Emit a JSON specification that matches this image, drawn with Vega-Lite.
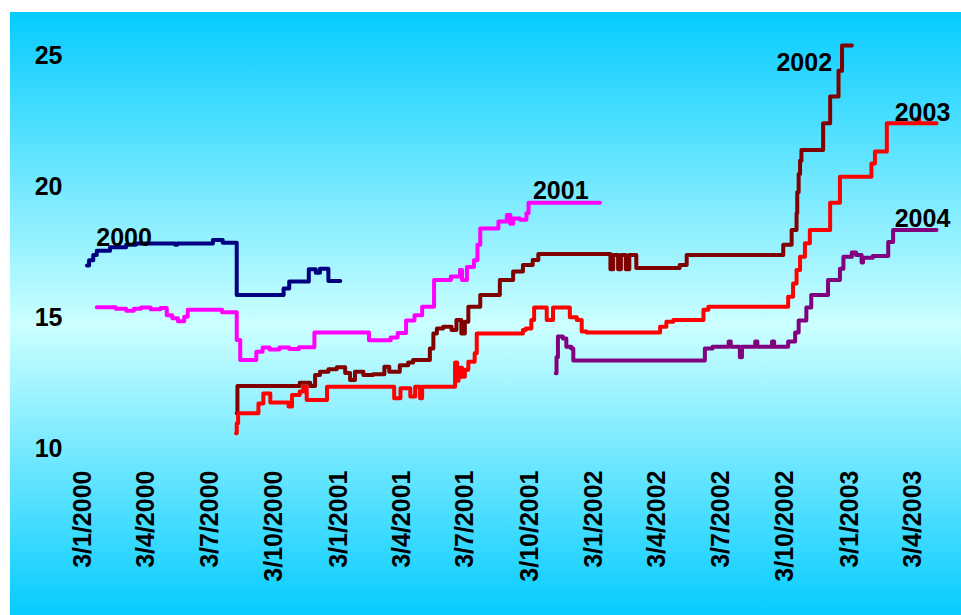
{
  "$schema": "https://vega.github.io/schema/vega-lite/v6.json",
  "width": 951,
  "height": 603,
  "autosize": "none",
  "padding": {"left": 10, "top": 12, "right": 0, "bottom": 0},
  "background": "white",
  "config": {
    "view": {
      "stroke": null,
      "fill": {"gradient": "linear", "x1": 0, "y1": 0, "x2": 0, "y2": 1,
        "stops": [{"offset": 0, "color": "#05CCFF"}, {"offset": 0.52, "color": "#CCFFFF"}, {"offset": 1, "color": "#05CCFF"}]}
    },
    "font": "Liberation Sans"
  },
  "datasets": {
    "prices": [
      {"series": "2000", "date": "2000-01-10", "value": 17.0},
      {"series": "2000", "date": "2000-01-13", "value": 17.2},
      {"series": "2000", "date": "2000-01-19", "value": 17.4},
      {"series": "2000", "date": "2000-01-24", "value": 17.57},
      {"series": "2000", "date": "2000-02-12", "value": 17.7},
      {"series": "2000", "date": "2000-03-06", "value": 17.8},
      {"series": "2000", "date": "2000-03-20", "value": 17.84},
      {"series": "2000", "date": "2000-05-15", "value": 17.8},
      {"series": "2000", "date": "2000-05-18", "value": 17.84},
      {"series": "2000", "date": "2000-07-08", "value": 17.98},
      {"series": "2000", "date": "2000-07-22", "value": 17.87},
      {"series": "2000", "date": "2000-08-11", "value": 15.88},
      {"series": "2000", "date": "2000-10-17", "value": 16.13},
      {"series": "2000", "date": "2000-10-25", "value": 16.39},
      {"series": "2000", "date": "2000-11-22", "value": 16.86},
      {"series": "2000", "date": "2000-12-02", "value": 16.73},
      {"series": "2000", "date": "2000-12-08", "value": 16.88},
      {"series": "2000", "date": "2000-12-20", "value": 16.41},
      {"series": "2000", "date": "2001-01-06", "value": 16.41},

      {"series": "2001", "date": "2000-01-24", "value": 15.41},
      {"series": "2001", "date": "2000-02-20", "value": 15.35},
      {"series": "2001", "date": "2000-03-06", "value": 15.28},
      {"series": "2001", "date": "2000-03-17", "value": 15.35},
      {"series": "2001", "date": "2000-03-27", "value": 15.4},
      {"series": "2001", "date": "2000-04-10", "value": 15.33},
      {"series": "2001", "date": "2000-04-24", "value": 15.38},
      {"series": "2001", "date": "2000-05-03", "value": 15.1},
      {"series": "2001", "date": "2000-05-11", "value": 14.99},
      {"series": "2001", "date": "2000-05-19", "value": 14.88},
      {"series": "2001", "date": "2000-05-28", "value": 15.05},
      {"series": "2001", "date": "2000-06-02", "value": 15.31},
      {"series": "2001", "date": "2000-07-21", "value": 15.22},
      {"series": "2001", "date": "2000-08-11", "value": 14.16},
      {"series": "2001", "date": "2000-08-16", "value": 13.4},
      {"series": "2001", "date": "2000-09-08", "value": 13.71},
      {"series": "2001", "date": "2000-09-17", "value": 13.87},
      {"series": "2001", "date": "2000-09-27", "value": 13.8},
      {"series": "2001", "date": "2000-10-11", "value": 13.87},
      {"series": "2001", "date": "2000-10-25", "value": 13.82},
      {"series": "2001", "date": "2000-11-08", "value": 13.88},
      {"series": "2001", "date": "2000-11-30", "value": 14.45},
      {"series": "2001", "date": "2001-02-16", "value": 14.15},
      {"series": "2001", "date": "2001-03-19", "value": 14.26},
      {"series": "2001", "date": "2001-03-29", "value": 14.43},
      {"series": "2001", "date": "2001-04-10", "value": 14.9},
      {"series": "2001", "date": "2001-04-22", "value": 15.1},
      {"series": "2001", "date": "2001-05-03", "value": 15.43},
      {"series": "2001", "date": "2001-05-20", "value": 16.45},
      {"series": "2001", "date": "2001-06-13", "value": 16.58},
      {"series": "2001", "date": "2001-06-26", "value": 16.83},
      {"series": "2001", "date": "2001-06-29", "value": 16.45},
      {"series": "2001", "date": "2001-07-06", "value": 16.95},
      {"series": "2001", "date": "2001-07-16", "value": 17.2},
      {"series": "2001", "date": "2001-07-21", "value": 17.8},
      {"series": "2001", "date": "2001-07-25", "value": 18.42},
      {"series": "2001", "date": "2001-08-20", "value": 18.68},
      {"series": "2001", "date": "2001-09-01", "value": 18.93},
      {"series": "2001", "date": "2001-09-06", "value": 18.6},
      {"series": "2001", "date": "2001-09-10", "value": 18.8},
      {"series": "2001", "date": "2001-09-20", "value": 18.75},
      {"series": "2001", "date": "2001-09-29", "value": 19.0},
      {"series": "2001", "date": "2001-10-02", "value": 19.4},
      {"series": "2001", "date": "2002-01-12", "value": 19.4},

      {"series": "2002", "date": "2000-08-11", "value": 11.36},
      {"series": "2002", "date": "2000-08-12", "value": 12.4},
      {"series": "2002", "date": "2000-11-09", "value": 12.53},
      {"series": "2002", "date": "2000-11-24", "value": 12.4},
      {"series": "2002", "date": "2000-12-01", "value": 12.82},
      {"series": "2002", "date": "2000-12-08", "value": 12.95},
      {"series": "2002", "date": "2000-12-20", "value": 13.04},
      {"series": "2002", "date": "2001-01-01", "value": 13.12},
      {"series": "2002", "date": "2001-01-13", "value": 12.9},
      {"series": "2002", "date": "2001-01-20", "value": 12.63},
      {"series": "2002", "date": "2001-01-27", "value": 12.95},
      {"series": "2002", "date": "2001-02-08", "value": 12.82},
      {"series": "2002", "date": "2001-02-22", "value": 12.85},
      {"series": "2002", "date": "2001-03-10", "value": 13.14},
      {"series": "2002", "date": "2001-03-17", "value": 12.95},
      {"series": "2002", "date": "2001-04-01", "value": 13.2},
      {"series": "2002", "date": "2001-04-13", "value": 13.3},
      {"series": "2002", "date": "2001-04-20", "value": 13.4},
      {"series": "2002", "date": "2001-05-14", "value": 13.84},
      {"series": "2002", "date": "2001-05-19", "value": 14.41},
      {"series": "2002", "date": "2001-05-24", "value": 14.6},
      {"series": "2002", "date": "2001-06-02", "value": 14.67},
      {"series": "2002", "date": "2001-06-14", "value": 14.54},
      {"series": "2002", "date": "2001-06-21", "value": 14.92},
      {"series": "2002", "date": "2001-06-28", "value": 14.41},
      {"series": "2002", "date": "2001-07-03", "value": 14.86},
      {"series": "2002", "date": "2001-07-08", "value": 15.43},
      {"series": "2002", "date": "2001-07-25", "value": 15.88},
      {"series": "2002", "date": "2001-08-22", "value": 16.45},
      {"series": "2002", "date": "2001-09-10", "value": 16.77},
      {"series": "2002", "date": "2001-09-24", "value": 17.02},
      {"series": "2002", "date": "2001-10-08", "value": 17.21},
      {"series": "2002", "date": "2001-10-16", "value": 17.44},
      {"series": "2002", "date": "2002-01-27", "value": 16.86},
      {"series": "2002", "date": "2002-01-31", "value": 17.4},
      {"series": "2002", "date": "2002-02-07", "value": 16.86},
      {"series": "2002", "date": "2002-02-11", "value": 17.4},
      {"series": "2002", "date": "2002-02-18", "value": 16.86},
      {"series": "2002", "date": "2002-02-23", "value": 17.4},
      {"series": "2002", "date": "2002-03-05", "value": 16.91},
      {"series": "2002", "date": "2002-05-06", "value": 17.02},
      {"series": "2002", "date": "2002-05-16", "value": 17.4},
      {"series": "2002", "date": "2002-10-01", "value": 17.8},
      {"series": "2002", "date": "2002-10-13", "value": 18.36},
      {"series": "2002", "date": "2002-10-20", "value": 19.0},
      {"series": "2002", "date": "2002-10-21", "value": 19.8},
      {"series": "2002", "date": "2002-10-23", "value": 20.5},
      {"series": "2002", "date": "2002-10-25", "value": 21.0},
      {"series": "2002", "date": "2002-10-27", "value": 21.41},
      {"series": "2002", "date": "2002-11-27", "value": 22.43},
      {"series": "2002", "date": "2002-12-07", "value": 23.45},
      {"series": "2002", "date": "2002-12-19", "value": 24.44},
      {"series": "2002", "date": "2002-12-24", "value": 25.4},
      {"series": "2002", "date": "2003-01-07", "value": 25.4},

      {"series": "2003", "date": "2000-08-10", "value": 10.6},
      {"series": "2003", "date": "2000-08-11", "value": 10.98},
      {"series": "2003", "date": "2000-08-13", "value": 11.36},
      {"series": "2003", "date": "2000-09-11", "value": 11.74},
      {"series": "2003", "date": "2000-09-18", "value": 12.12},
      {"series": "2003", "date": "2000-09-28", "value": 11.77},
      {"series": "2003", "date": "2000-10-24", "value": 11.62},
      {"series": "2003", "date": "2000-10-29", "value": 12.06},
      {"series": "2003", "date": "2000-11-09", "value": 12.19},
      {"series": "2003", "date": "2000-11-14", "value": 12.38},
      {"series": "2003", "date": "2000-11-19", "value": 11.87},
      {"series": "2003", "date": "2000-12-18", "value": 12.38},
      {"series": "2003", "date": "2001-03-24", "value": 11.94},
      {"series": "2003", "date": "2001-04-02", "value": 12.32},
      {"series": "2003", "date": "2001-04-16", "value": 12.0},
      {"series": "2003", "date": "2001-04-23", "value": 12.38},
      {"series": "2003", "date": "2001-04-30", "value": 11.94},
      {"series": "2003", "date": "2001-05-03", "value": 12.38},
      {"series": "2003", "date": "2001-06-19", "value": 13.3},
      {"series": "2003", "date": "2001-06-22", "value": 12.6},
      {"series": "2003", "date": "2001-06-24", "value": 13.1},
      {"series": "2003", "date": "2001-06-29", "value": 12.76},
      {"series": "2003", "date": "2001-07-03", "value": 13.02},
      {"series": "2003", "date": "2001-07-08", "value": 13.33},
      {"series": "2003", "date": "2001-07-17", "value": 13.65},
      {"series": "2003", "date": "2001-07-20", "value": 14.41},
      {"series": "2003", "date": "2001-09-24", "value": 14.54},
      {"series": "2003", "date": "2001-09-28", "value": 14.6},
      {"series": "2003", "date": "2001-10-06", "value": 14.92},
      {"series": "2003", "date": "2001-10-10", "value": 15.4},
      {"series": "2003", "date": "2001-10-28", "value": 14.92},
      {"series": "2003", "date": "2001-11-06", "value": 15.4},
      {"series": "2003", "date": "2001-11-30", "value": 15.03},
      {"series": "2003", "date": "2001-12-10", "value": 14.92},
      {"series": "2003", "date": "2001-12-17", "value": 14.48},
      {"series": "2003", "date": "2001-12-24", "value": 14.45},
      {"series": "2003", "date": "2002-04-08", "value": 14.67},
      {"series": "2003", "date": "2002-04-17", "value": 14.86},
      {"series": "2003", "date": "2002-04-27", "value": 14.92},
      {"series": "2003", "date": "2002-06-09", "value": 15.31},
      {"series": "2003", "date": "2002-06-16", "value": 15.43},
      {"series": "2003", "date": "2002-10-08", "value": 15.81},
      {"series": "2003", "date": "2002-10-15", "value": 16.32},
      {"series": "2003", "date": "2002-10-20", "value": 16.83},
      {"series": "2003", "date": "2002-10-25", "value": 17.34},
      {"series": "2003", "date": "2002-11-01", "value": 17.85},
      {"series": "2003", "date": "2002-11-08", "value": 18.36},
      {"series": "2003", "date": "2002-12-07", "value": 19.4},
      {"series": "2003", "date": "2002-12-21", "value": 20.39},
      {"series": "2003", "date": "2003-02-04", "value": 20.9},
      {"series": "2003", "date": "2003-02-09", "value": 21.35},
      {"series": "2003", "date": "2003-02-26", "value": 22.43},
      {"series": "2003", "date": "2003-04-10", "value": 22.6},
      {"series": "2003", "date": "2003-04-13", "value": 22.43},
      {"series": "2003", "date": "2003-05-08", "value": 22.43},

      {"series": "2004", "date": "2001-11-10", "value": 12.89},
      {"series": "2004", "date": "2001-11-11", "value": 13.5},
      {"series": "2004", "date": "2001-11-13", "value": 14.29},
      {"series": "2004", "date": "2001-11-20", "value": 14.22},
      {"series": "2004", "date": "2001-11-25", "value": 13.9},
      {"series": "2004", "date": "2001-12-02", "value": 13.84},
      {"series": "2004", "date": "2001-12-05", "value": 13.38},
      {"series": "2004", "date": "2002-06-11", "value": 13.84},
      {"series": "2004", "date": "2002-06-22", "value": 13.9},
      {"series": "2004", "date": "2002-07-15", "value": 14.1},
      {"series": "2004", "date": "2002-07-18", "value": 13.9},
      {"series": "2004", "date": "2002-07-31", "value": 13.5},
      {"series": "2004", "date": "2002-08-03", "value": 13.9},
      {"series": "2004", "date": "2002-08-22", "value": 14.1},
      {"series": "2004", "date": "2002-08-25", "value": 13.9},
      {"series": "2004", "date": "2002-09-15", "value": 14.1},
      {"series": "2004", "date": "2002-09-18", "value": 13.9},
      {"series": "2004", "date": "2002-10-08", "value": 14.1},
      {"series": "2004", "date": "2002-10-18", "value": 14.45},
      {"series": "2004", "date": "2002-10-23", "value": 14.9},
      {"series": "2004", "date": "2002-11-03", "value": 15.4},
      {"series": "2004", "date": "2002-11-10", "value": 15.88},
      {"series": "2004", "date": "2002-12-04", "value": 16.45},
      {"series": "2004", "date": "2002-12-21", "value": 16.88},
      {"series": "2004", "date": "2002-12-26", "value": 17.34},
      {"series": "2004", "date": "2003-01-07", "value": 17.5},
      {"series": "2004", "date": "2003-01-13", "value": 17.4},
      {"series": "2004", "date": "2003-01-21", "value": 17.12},
      {"series": "2004", "date": "2003-01-23", "value": 17.3},
      {"series": "2004", "date": "2003-02-06", "value": 17.37},
      {"series": "2004", "date": "2003-02-28", "value": 17.9},
      {"series": "2004", "date": "2003-03-07", "value": 18.36},
      {"series": "2004", "date": "2003-05-08", "value": 18.36}
    ],
    "labels": [
      {"label": "2000", "date": "2000-03-03", "value": 18.05},
      {"label": "2001", "date": "2001-11-17", "value": 19.85},
      {"label": "2002", "date": "2002-10-31", "value": 24.75},
      {"label": "2003", "date": "2003-04-18", "value": 22.84},
      {"label": "2004", "date": "2003-04-18", "value": 18.78}
    ]
  },
  "encoding": {
    "x": {
      "field": "date", "type": "temporal",
      "scale": {"type": "utc", "domain": [{"year": 1999, "month": 9, "date": 22, "utc": true}, {"year": 2003, "month": 6, "date": 12, "utc": true}], "nice": false},
      "axis": {
        "title": null, "domain": false, "ticks": false, "tickSize": 0, "grid": false,
        "values": [
          {"year": 2000, "month": 1, "date": 3, "utc": true}, {"year": 2000, "month": 4, "date": 3, "utc": true},
          {"year": 2000, "month": 7, "date": 3, "utc": true}, {"year": 2000, "month": 10, "date": 3, "utc": true},
          {"year": 2001, "month": 1, "date": 3, "utc": true}, {"year": 2001, "month": 4, "date": 3, "utc": true},
          {"year": 2001, "month": 7, "date": 3, "utc": true}, {"year": 2001, "month": 10, "date": 3, "utc": true},
          {"year": 2002, "month": 1, "date": 3, "utc": true}, {"year": 2002, "month": 4, "date": 3, "utc": true},
          {"year": 2002, "month": 7, "date": 3, "utc": true}, {"year": 2002, "month": 10, "date": 3, "utc": true},
          {"year": 2003, "month": 1, "date": 3, "utc": true}, {"year": 2003, "month": 4, "date": 3, "utc": true}
        ],
        "labelExpr": "utcFormat(datum.value, '%-d/%-m/%Y')",
        "labelAngle": 270, "labelAlign": "right", "labelBaseline": "middle",
        "labelFont": "Liberation Sans", "labelFontSize": 25, "labelFontWeight": "bold", "labelColor": "black",
        "offset": -150, "labelPadding": 5, "labelOverlap": false, "labelFlush": false, "labelBound": false
      }
    },
    "y": {
      "field": "value", "type": "quantitative",
      "scale": {"domain": [3.664, 26.679], "nice": false, "zero": false},
      "axis": {
        "title": null, "domain": false, "ticks": false, "tickSize": 0, "grid": false,
        "values": [10, 15, 20, 25],
        "labelFont": "Liberation Sans", "labelFontSize": 25, "labelFontWeight": "bold", "labelColor": "black",
        "offset": -57, "labelPadding": 5, "labelOverlap": false, "labelFlush": false, "labelBound": false
      }
    }
  },
  "layer": [
    {
      "data": {"name": "prices"},
      "mark": {"type": "line", "interpolate": "step-after", "strokeWidth": 4, "strokeJoin": "round", "strokeCap": "round"},
      "encoding": {
        "color": {"field": "series", "type": "nominal", "legend": null,
          "scale": {"domain": ["2000", "2001", "2002", "2003", "2004"], "range": ["#000080", "#FF00FF", "#800000", "#FF0000", "#800080"]}}
      }
    },
    {
      "data": {"name": "labels"},
      "mark": {"type": "text", "font": "Liberation Sans", "fontSize": 25, "fontWeight": "bold", "color": "black", "align": "center", "baseline": "middle"},
      "encoding": {"text": {"field": "label"}}
    }
  ]
}
